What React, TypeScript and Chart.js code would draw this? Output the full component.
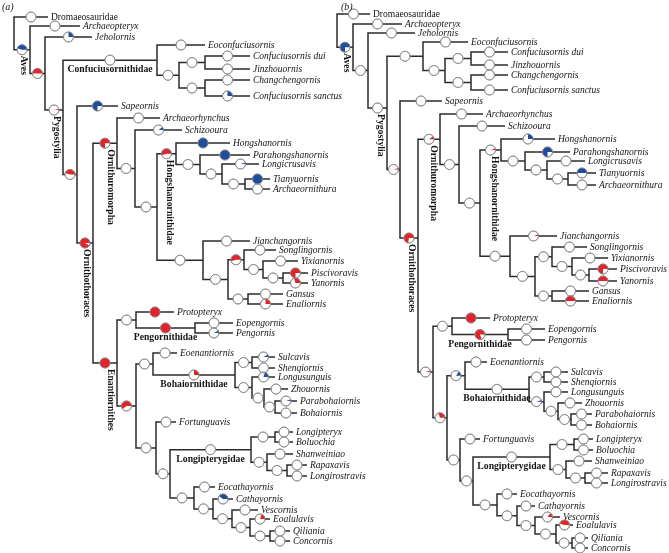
import React, { useEffect, useRef } from "react";
import { Chart, registerables } from "chart.js";

Chart.register(...registerables);

// ---------- DATA ----------
// Topology (Newick). Internal ids such as C1, O2, E5 are unnamed clades.
const TREE =
  "(Dromaeosauridae,(Archaeopteryx,(Jeholornis,((Eoconfuciusornis,((Confuciusornis dui,Jinzhouornis)C2,(Changchengornis,Confuciusornis sanctus)C3)C1)Confuciusornithidae,(Sapeornis,((Archaeorhynchus,(Schizooura,((Hongshanornis,(Parahongshanornis,(Longicrusavis,(Tianyuornis,Archaeornithura)H3)H2)H1)Hongshanornithidae,(Jianchangornis,((Songlingornis,(Yixianornis,(Piscivoravis,Yanornis)O7)O6)O5,(Gansus,Enaliornis)O8)O4)O3)O2)O1)Ornithuromorpha,((Protopteryx,(Eopengornis,Pengornis)Pengornithidae)E1,((Eoenantiornis,((Sulcavis,Shenqiornis)B1,(Longusunguis,(Zhouornis,(Parabohaiornis,Bohaiornis)B4)B3)B2)Bohaiornithidae)E3,(Fortunguavis,(((Longipteryx,Boluochia)L1,(Shanweiniao,(Rapaxavis,Longirostravis)L3)L2)Longipterygidae,(Eocathayornis,(Cathayornis,(Vescornis,(Eoalulavis,(Qiliania,Concornis)E10)E9)E8)E7)E6)E5)E4)E2)Enantiornithes)Ornithothoraces)N2)Pygostylia)N1)Aves)Root;";

// Leaf rows (top to bottom, in tree order) and tip depths, panel (a)
const leafRowA = [17, 26, 37, 45, 56, 69, 80, 96, 106, 118, 130, 143, 155, 164, 179, 189, 241, 250, 261, 273, 283, 294, 304, 312, 323, 333, 353, 357, 368, 377, 389, 401, 413, 422, 432, 442, 454, 465, 476, 487, 499, 510, 519, 531, 541];
const leafTipA = [34, 66, 78, 191, 236, 236, 236, 236, 104, 146, 168, 216, 236, 245, 256, 256, 236, 262, 284, 294, 294, 269, 269, 160, 219, 219, 163, 261, 261, 261, 274, 283, 283, 162, 279, 279, 279, 293, 293, 201, 219, 244, 256, 276, 276];

// panel (b)
const leafRowB = [14, 24, 33, 42, 52, 65, 75, 90, 101, 114, 126, 139, 152, 161, 173, 185, 236, 247, 258, 269, 281, 291, 301, 318, 329, 340, 362, 372, 382, 392, 403, 414, 425, 439, 439, 450, 461, 473, 483, 494, 506, 517, 525, 538, 548];
const leafTipB = [33, 65, 78, 131, 171, 171, 171, 171, 105, 146, 168, 218, 233, 248, 259, 259, 220, 250, 271, 280, 280, 252, 252, 153, 208, 208, 150, 231, 231, 231, 245, 255, 255, 143, 256, 256, 255, 271, 271, 180, 198, 223, 236, 251, 251];

// Clade depths
const cladeDepthA: Record<string, number> = {
  Root: 0, Aves: 16, N1: 31, Pygostylia: 49, Confuciusornithidae: 143, C1: 165, C2: 191, C3: 191,
  N2: 63, Ornithothoraces: 79, Ornithuromorpha: 103, O1: 121, O2: 143, Hongshanornithidae: 162,
  H1: 186, H2: 208, H3: 231, O3: 189, O4: 214, O5: 230, O6: 249, O7: 269, O8: 234,
  Enantiornithes: 103, E1: 122, Pengornithidae: 181, E2: 122, E3: 139, Bohaiornithidae: 221,
  B1: 238, B2: 238, B3: 250, B4: 261, E4: 142, E5: 156, Longipterygidae: 237, L1: 261, L2: 253,
  L3: 273, E6: 180, E7: 199, E8: 218, E9: 236, E10: 256,
};
const cladeDepthB: Record<string, number> = {
  Root: 0, Aves: 16, N1: 31, Pygostylia: 50, Confuciusornithidae: 86, C1: 108, C2: 134, C3: 134,
  N2: 63, Ornithothoraces: 81, Ornithuromorpha: 103, O1: 122, O2: 143, Hongshanornithidae: 164,
  H1: 188, H2: 210, H3: 231, O3: 173, O4: 198, O5: 215, O6: 235, O7: 252, O8: 215,
  Enantiornithes: 96, E1: 115, Pengornithidae: 171, E2: 110, E3: 128, Bohaiornithidae: 192,
  B1: 207, B2: 207, B3: 221, B4: 234, E4: 123, E5: 136, Longipterygidae: 213, L1: 237, L2: 229,
  L3: 248, E6: 160, E7: 180, E8: 198, E9: 219, E10: 235,
};
// Clade rows that are not centred between their children
const cladeRowA: Record<string, number> = { Pygostylia: 110, Ornithothoraces: 243 };
const cladeRowB: Record<string, number> = { Pygostylia: 108, Ornithothoraces: 238 };

// Ancestral-state pie fractions (red state, blue state; rest white)
const redA: Record<string, number> = {
  N1: 0.5, Pygostylia: 0.04, N2: 0.45, Ornithothoraces: 0.92, Ornithuromorpha: 0.75,
  Hongshanornithidae: 0.55, O5: 0.55, Piscivoravis: 0.75, Yanornis: 0.3, Enaliornis: 0.25,
  Enantiornithes: 1, Protopteryx: 1, Pengornithidae: 1, E2: 0.6, Bohaiornithidae: 0.25, Eoalulavis: 0.2,
};
const blueA: Record<string, number> = {
  Aves: 0.45, Jeholornis: 0.25, "Confuciusornis sanctus": 0.25, Sapeornis: 0.75, Schizooura: 0.1,
  Hongshanornis: 1, Parahongshanornis: 1, Longicrusavis: 0.05, Tianyuornis: 1, Pengornis: 0.08,
  Sulcavis: 0.08, Longusunguis: 0.2, Parabohaiornis: 0.05, Cathayornis: 0.4,
};
const redB: Record<string, number> = {
  N2: 0.05, Ornithothoraces: 0.72, Ornithuromorpha: 0.1, Hongshanornithidae: 0.05, Jianchangornis: 0.05,
  Piscivoravis: 0.75, Yanornis: 0.5, Enaliornis: 0.5, Protopteryx: 1, Pengornithidae: 0.8,
  Enantiornithes: 0.05, E2: 0.3, Vescornis: 0.15, Eoalulavis: 0.45,
};
const blueB: Record<string, number> = {
  Aves: 0.75, Hongshanornis: 0.25, Parahongshanornis: 0.75, Tianyuornis: 0.5, E3: 0.15, B2: 0.05,
};

// Clade labels
const vLabelsA = ["Aves", "Pygostylia", "Ornithuromorpha", "Ornithothoraces", "Hongshanornithidae", "Enantiornithes"];
const hLabelsA = ["Confuciusornithidae", "Pengornithidae", "Bohaiornithidae", "Longipterygidae"];
const vLabelsB = ["Aves", "Pygostylia", "Ornithuromorpha", "Ornithothoraces", "Hongshanornithidae"];
const hLabelsB = ["Pengornithidae", "Bohaiornithidae", "Longipterygidae"];

const RED = "#e1232b";
const BLUE = "#1f4c9c";
const LINE = "#2b2b2b";
const FONT = "'Liberation Serif', 'Times New Roman', serif";

// ---------- TREE HELPERS ----------
type TNode = { name: string; children: TNode[]; parent: TNode | null; x: number; y: number; leaf: boolean };

function parseTree(s: string): TNode {
  let i = 0;
  const parse = (parent: TNode | null): TNode => {
    const node: TNode = { name: "", children: [], parent, x: 0, y: 0, leaf: true };
    if (s[i] === "(") {
      node.leaf = false;
      i++;
      node.children.push(parse(node));
      while (s[i] === ",") {
        i++;
        node.children.push(parse(node));
      }
      i++;
    }
    let name = "";
    while (i < s.length && !",();".includes(s[i])) name += s[i++];
    node.name = name.trim();
    return node;
  };
  return parse(null);
}

type Panel = {
  tag: string;
  tagX: number;
  leafRow: number[];
  leafTip: number[];
  cladeDepth: Record<string, number>;
  cladeRow: Record<string, number>;
  red: Record<string, number>;
  blue: Record<string, number>;
  vLabels: string[];
  hLabels: string[];
  xMin: number;
  xMax: number;
};

function layoutTree(p: Panel): TNode[] {
  const root = parseTree(TREE);
  const all: TNode[] = [];
  let li = 0;
  const walk = (n: TNode) => {
    all.push(n);
    if (n.leaf) {
      n.x = p.leafTip[li];
      n.y = p.leafRow[li];
      li++;
    } else {
      n.children.forEach(walk);
      n.x = p.cladeDepth[n.name];
      const a = n.children[0].y;
      const b = n.children[n.children.length - 1].y;
      n.y = p.cladeRow[n.name] !== undefined ? p.cladeRow[n.name] : (a + b) / 2;
    }
  };
  walk(root);
  return all;
}

const panels: Panel[] = [
  {
    tag: "(a)", tagX: -12, leafRow: leafRowA, leafTip: leafTipA, cladeDepth: cladeDepthA, cladeRow: cladeRowA,
    red: redA, blue: blueA, vLabels: vLabelsA, hLabels: hLabelsA, xMin: -14, xMax: 655,
  },
  {
    tag: "(b)", tagX: 4, leafRow: leafRowB, leafTip: leafTipB, cladeDepth: cladeDepthB, cladeRow: cladeRowB,
    red: redB, blue: blueB, vLabels: vLabelsB, hLabels: hLabelsB, xMin: -337, xMax: 332,
  },
];

function TreeChart({ panel }: { panel: Panel }) {
  const ref = useRef<HTMLCanvasElement | null>(null);

  useEffect(() => {
    if (!ref.current) return;
    const nodes = layoutTree(panel);
    const byName: Record<string, TNode> = {};
    nodes.forEach((n) => (byName[n.name] = n));

    const pieData = nodes
      .filter((n) => n.parent)
      .map((n) => ({
        x: ((n.parent as TNode).x + n.x) / 2,
        y: n.y,
        red: panel.red[n.name] || 0,
        blue: panel.blue[n.name] || 0,
      }));

    const lineData: { x: number; y: number | null }[] = [];
    nodes.forEach((n) => {
      if (!n.leaf) {
        const c1 = n.children[0];
        const c2 = n.children[n.children.length - 1];
        lineData.push({ x: c1.x, y: c1.y }, { x: n.x, y: c1.y }, { x: n.x, y: c2.y }, { x: c2.x, y: c2.y }, { x: c2.x, y: null });
      }
    });

    const pieOverlay = {
      id: "pieOverlay",
      afterDatasetsDraw(chart: any) {
        const ctx = chart.ctx as CanvasRenderingContext2D;
        const meta = chart.getDatasetMeta(0);
        const data = chart.data.datasets[0].data as any[];
        const r = 5;
        ctx.save();
        meta.data.forEach((el: any, i: number) => {
          const d = data[i];
          let a = 0;
          const parts: [number, string][] = [
            [d.red, RED],
            [d.blue, BLUE],
          ];
          parts.forEach(([f, c]) => {
            if (f > 0) {
              ctx.beginPath();
              ctx.moveTo(el.x, el.y);
              ctx.arc(el.x, el.y, r, -a * 2 * Math.PI, -(a + f) * 2 * Math.PI, true);
              ctx.closePath();
              ctx.fillStyle = c;
              ctx.fill();
              a += f;
            }
          });
          ctx.beginPath();
          ctx.arc(el.x, el.y, r, 0, 2 * Math.PI);
          ctx.lineWidth = 0.8;
          ctx.strokeStyle = "#8a8a8a";
          ctx.stroke();
        });
        ctx.restore();
      },
    };

    const textPlugin = {
      id: "treeText",
      afterDraw(chart: any) {
        const ctx = chart.ctx as CanvasRenderingContext2D;
        const xs = chart.scales.x;
        const ys = chart.scales.y;
        ctx.save();
        ctx.fillStyle = "#141414";
        ctx.textBaseline = "middle";
        ctx.textAlign = "left";
        nodes.forEach((n) => {
          if (!n.leaf) return;
          ctx.font = (n.name === "Dromaeosauridae" ? "" : "italic ") + "9.5px " + FONT;
          ctx.fillText(n.name, xs.getPixelForValue(n.x) + 3, ys.getPixelForValue(n.y) + 0.5);
        });
        ctx.font = "bold 9.7px " + FONT;
        panel.vLabels.forEach((name) => {
          const n = byName[name];
          const px = xs.getPixelForValue(n.x) - 6;
          const py = ys.getPixelForValue(n.y) + 6;
          ctx.save();
          ctx.translate(px, py);
          ctx.rotate(Math.PI / 2);
          ctx.textAlign = "left";
          ctx.textBaseline = "middle";
          ctx.fillText(name, 0, 0);
          ctx.restore();
        });
        ctx.textAlign = "center";
        panel.hLabels.forEach((name) => {
          const n = byName[name];
          const px = xs.getPixelForValue(((n.parent as TNode).x + n.x) / 2);
          const py = ys.getPixelForValue(n.y) + 9.5;
          ctx.fillText(name, px, py);
        });
        ctx.textAlign = "left";
        ctx.font = "italic 10px " + FONT;
        ctx.fillText(panel.tag, xs.getPixelForValue(panel.tagX), ys.getPixelForValue(7));
        ctx.restore();
      },
    };

    const chart = new Chart(ref.current, {
      type: "scatter",
      data: {
        datasets: [
          {
            data: pieData as any,
            order: 0,
            pointRadius: 5,
            pointHoverRadius: 5,
            pointBackgroundColor: "#ffffff",
            pointBorderColor: "#8a8a8a",
            pointBorderWidth: 0.8,
            showLine: false,
            clip: false,
          } as any,
          {
            type: "line",
            data: lineData as any,
            order: 1,
            borderColor: LINE,
            borderWidth: 1.5,
            pointRadius: 0,
            pointHoverRadius: 0,
            spanGaps: false,
            tension: 0,
            fill: false,
            borderJoinStyle: "miter",
            clip: false,
          } as any,
        ],
      },
      options: {
        animation: false,
        responsive: false,
        events: [],
        layout: { padding: 0, autoPadding: false } as any,
        plugins: { legend: { display: false }, tooltip: { enabled: false } },
        scales: {
          x: { type: "linear", display: false, min: panel.xMin, max: panel.xMax },
          y: { type: "linear", display: false, min: 0, max: 553, reverse: true },
        },
      },
      plugins: [pieOverlay, textPlugin],
    });
    return () => chart.destroy();
  }, [panel]);

  return (
    <canvas
      ref={ref}
      width={669}
      height={553}
      style={{ position: "absolute", left: 0, top: 0, width: 669, height: 553 }}
    />
  );
}

export default function App() {
  return (
    <div style={{ position: "fixed", left: 0, top: 0, width: 669, height: 553, background: "#ffffff" }}>
      <TreeChart panel={panels[0]} />
      <TreeChart panel={panels[1]} />
    </div>
  );
}
